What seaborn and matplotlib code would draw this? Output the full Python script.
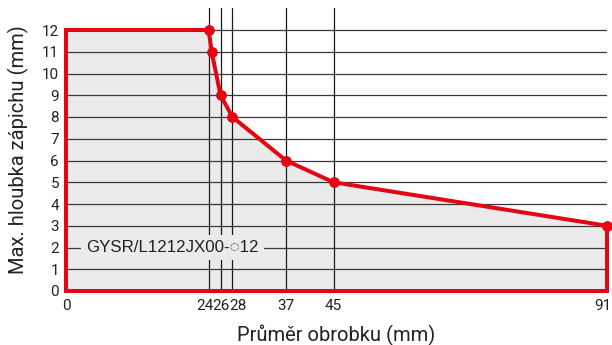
import matplotlib
matplotlib.use("Agg")
import matplotlib.pyplot as plt
import matplotlib.transforms as mtransforms
import numpy as np
import pandas as pd
import seaborn as sns

# dados
prumer = [24, 24.5, 26, 28, 37, 45, 91]
hloubka = [12, 11, 9, 8, 6, 5, 3]
svisle_cary = [24, 26, 28, 37, 45]
x_ticks = [0, 24, 26, 28, 37, 45, 91]
y_ticks = list(range(0, 13))
popisek = "GYSR/L1212JX00-\u25cc12"

cervena = "#e30613"
seda = "#ebebeb"

sns.set_style("white")
plt.rcParams["font.family"] = ["Roboto", "DejaVu Sans"]

df = pd.DataFrame({"x": prumer, "y": hloubka})

fig = plt.figure(figsize=(6.12, 3.45), dpi=100)
ax = fig.add_axes([66 / 612, 54 / 345, 541 / 612, 282.75 / 345])

# plocha pod krivkou
obrys_x = [0, 0] + prumer + [91]
obrys_y = [0, 12] + hloubka + [0]
ax.fill(obrys_x, obrys_y, color=seda, zorder=0, lw=0)

# mrizka
for yy in y_ticks[1:]:
    ax.plot([0, 91], [yy, yy], color="#3a3a3a", lw=0.9, zorder=1)
for xx in svisle_cary:
    ax.plot([xx, xx], [0, 13], color="#1a1a1a", lw=0.9, zorder=1, clip_on=False)

# popisek
ax.text(3.4, 2, popisek, fontsize=12.2, va="center", ha="left",
        family=["Liberation Sans", "DejaVu Sans"], color="#222222", zorder=2,
        bbox=dict(boxstyle="square,pad=0.3", fc=seda, ec="none"))

# cerveny obrys
ax.plot([0, 0, 24], [0, 12, 12], color=cervena, lw=2.9, zorder=3,
        clip_on=False, solid_joinstyle="miter")
ax.plot([91, 91, 0, 0], [3, 0, 0, 0.5], color=cervena, lw=2.9, zorder=3,
        clip_on=False, solid_joinstyle="miter")
sns.lineplot(data=df, x="x", y="y", sort=False, estimator=None, ax=ax,
             color=cervena, lw=2.9, marker="o", markersize=7,
             markeredgecolor=cervena, zorder=4, clip_on=False)

ax.set_xlim(0, 91)
ax.set_ylim(0, 13)
for s in ax.spines.values():
    s.set_visible(False)

ax.set_xticks(x_ticks)
ax.set_xticklabels([str(v) for v in x_ticks])
ax.set_yticks(y_ticks)
ax.set_yticklabels([str(v) for v in y_ticks])
ax.tick_params(axis="both", length=0, labelsize=11, labelcolor="#222222")
ax.tick_params(axis="x", pad=6)
ax.tick_params(axis="y", pad=5)

# posun popisku 24, 28 a 91, aby se neprekryvaly
posuny = {24: -4, 28: 5, 91: -4}
for val, lab in zip(x_ticks, ax.get_xticklabels()):
    if val in posuny:
        off = mtransforms.ScaledTranslation(posuny[val] / 100, 0, fig.dpi_scale_trans)
        lab.set_transform(lab.get_transform() + off)

ax.set_xlabel("Průměr obrobku (mm)", fontsize=14.5, color="#222222", labelpad=8)
ax.set_ylabel("Max. hloubka zápichu (mm)", fontsize=14.5, color="#222222", labelpad=9)

fig.savefig("out.png", dpi=100)
